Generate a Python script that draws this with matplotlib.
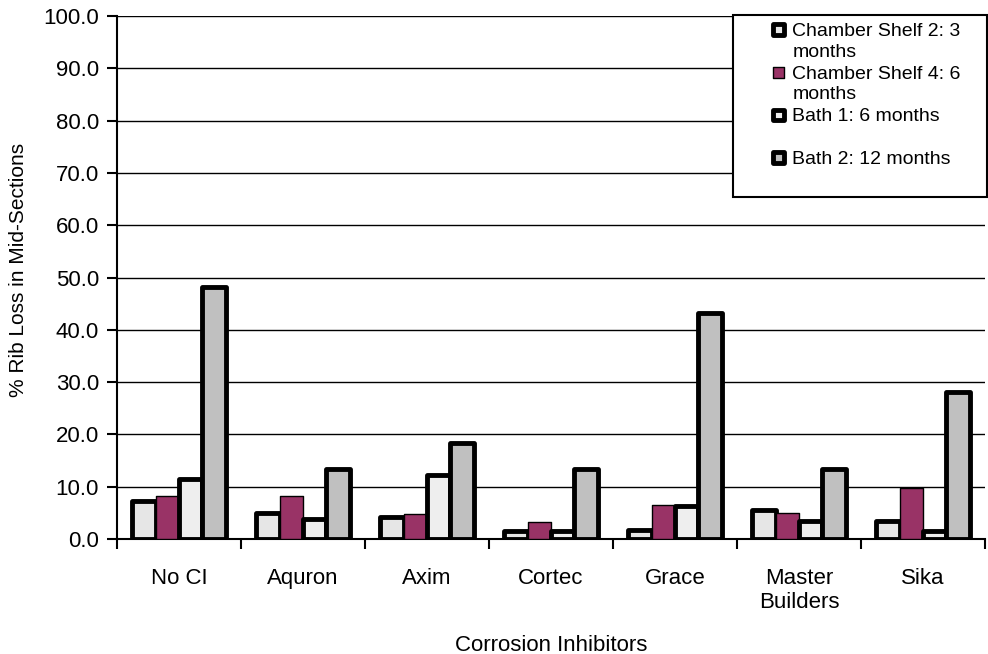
import numpy as np
import matplotlib.pyplot as plt
from matplotlib.patches import Patch, Rectangle
from matplotlib.legend_handler import HandlerBase

plt.rcParams['font.family'] = ['Liberation Sans', 'DejaVu Sans']

# data
inhibitors = ["No CI", "Aquron", "Axim", "Cortec", "Grace", "Master\nBuilders", "Sika"]
shelf2_3m = [7.2, 5.0, 4.2, 1.5, 1.8, 5.6, 3.4]
shelf4_6m = [8.3, 8.3, 4.8, 3.3, 6.5, 4.9, 9.8]
bath1_6m = [11.5, 3.8, 12.2, 1.5, 6.4, 3.4, 1.5]
bath2_12m = [48.2, 13.4, 18.3, 13.3, 43.2, 13.3, 28.2]
series_labels = ["Chamber Shelf 2: 3\nmonths", "Chamber Shelf 4: 6\nmonths",
                 "Bath 1: 6 months\n ", "Bath 2: 12 months\n "]
colors = ["#E6E6E6", "#993366", "#EEEEEE", "#C0C0C0"]
edge_w = [3.5, 1.0, 3.5, 3.5]


class TopSquare(HandlerBase):
    # small square sitting at the right/top of the handle box
    def create_artists(self, legend, orig_handle, xdescent, ydescent,
                       width, height, fontsize, trans):
        s = 0.55 * fontsize
        r = Rectangle((-xdescent + width - s, -ydescent + height - s), s, s,
                      facecolor=orig_handle.get_facecolor(),
                      edgecolor='black', linewidth=orig_handle.get_linewidth(),
                      joinstyle='round', transform=trans)
        return [r]


fig = plt.figure(figsize=(9.88, 6.54), dpi=100)
ax = fig.add_axes([0.1184, 0.1758, 0.8786, 0.7997])

x = np.arange(len(inhibitors))
w = 0.188
series = [shelf2_3m, shelf4_6m, bath1_6m, bath2_12m]
for i, vals in enumerate(series):
    ax.bar(x + (i - 1.5) * w, vals, w, color=colors[i], edgecolor='black',
           linewidth=edge_w[i], joinstyle='round', zorder=3)

ax.set_xlim(-0.5, len(inhibitors) - 0.5)
ax.set_ylim(0, 100)
ax.set_yticks(np.arange(0, 101, 10))
ax.set_yticklabels(["%.1f" % v for v in np.arange(0, 101, 10)], fontsize=16)
ax.yaxis.grid(True, color='black', linewidth=1.0, zorder=0)
ax.set_xticks(x)
ax.set_xticklabels(inhibitors, fontsize=16, linespacing=1.15)
ax.tick_params(axis='x', which='major', length=0, pad=21)
ax.set_xticks(np.arange(-0.5, len(inhibitors), 1), minor=True)
ax.tick_params(axis='x', which='minor', length=7, width=1.5, direction='out')
ax.tick_params(axis='y', length=7, width=1.5, direction='out', pad=6)
for s in ['top', 'right']:
    ax.spines[s].set_visible(False)
ax.spines['left'].set_linewidth(1.5)
ax.spines['bottom'].set_linewidth(1.5)

ax.set_xlabel("Corrosion Inhibitors", fontsize=16)
ax.xaxis.set_label_coords(0.5, -0.183)
ax.set_ylabel("% Rib Loss in Mid-Sections", fontsize=15)
ax.yaxis.set_label_coords(-0.102, 0.515)

handles = [Patch(facecolor=colors[i], edgecolor='black', linewidth=edge_w[i])
           for i in range(4)]
leg = ax.legend(handles, series_labels, loc='upper left',
                bbox_to_anchor=(0.7097, 0.66, 0.2926, 0.342), mode='expand',
                handler_map={Patch: TopSquare()},
                fontsize=14, frameon=True, fancybox=False, edgecolor='black',
                framealpha=1.0, handlelength=2.2, handleheight=2.5,
                handletextpad=0.45, borderpad=0.4, labelspacing=0.25,
                borderaxespad=0.0)
leg.get_frame().set_linewidth(1.5)
leg.set_zorder(5)
for t in leg.get_texts():
    t.set_linespacing(1.3)

fig.savefig("out.png", dpi=100)
